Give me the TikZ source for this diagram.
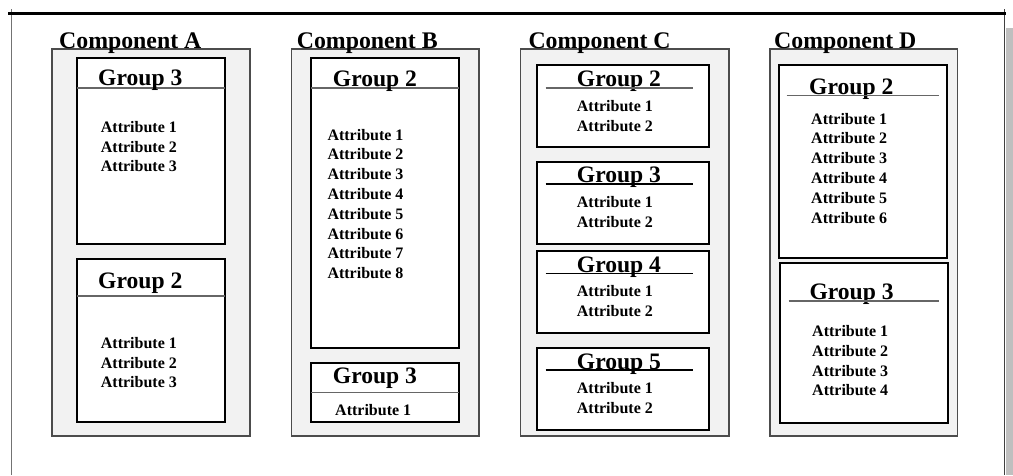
\documentclass[tikz,border=0pt]{standalone}
\usepackage{fontspec}
\setmainfont{Liberation Serif}[BoldFont={Liberation Serif Bold}]
\newcommand\myattrlist[5]{%
  \foreach \k in {1,...,#4} {
    \node[attr] (#1-\k) at (#2, {#3+(\k-1)*#5}) {Attribute \k};
  }%
}
\begin{document}
\begin{tikzpicture}[x=1pt,y=-1pt,
  comp/.style={draw=black!70, fill=black!5, line width=1.2pt},
  grp/.style={draw=black, fill=white, line width=1.8pt},
  ctitle/.style={font=\fontsize{23.8}{23.8}\selectfont\bfseries, anchor=base west, inner sep=0pt},
  gtitle/.style={font=\fontsize{23.6}{23.6}\selectfont\bfseries, anchor=base west, inner sep=0pt},
  attr/.style={font=\fontsize{16}{16}\selectfont\bfseries, anchor=base west, inner sep=0pt},
  div/.style={draw=black!60, line width=1.6pt},
  udiv/.style={draw=black, line width=1.1pt},
]
\useasboundingbox (0,0) rectangle (1013,475);
% frame
\fill[black!25] (1006,28) rectangle (1013,475);
\draw[black!55, line width=1pt] (11.5,9) -- (11.5,475);
\draw[black!75, line width=1pt] (1004.7,9) -- (1004.7,475);
\draw[line width=3pt] (8,13) -- (1006,13);

% ---------------- Component A
\draw[comp] (52,49) rectangle (250,436);
\node[ctitle] (cA) at (59,48) {Component A};
\draw[grp] (77,58) rectangle (225,244);
\draw[div] (77,88) -- (225,88);
\node[gtitle] (A3) at (98,85) {Group 3};
\myattrlist{A3a}{100.7}{132.5}{3}{19.5}
\draw[grp] (77,259) rectangle (225,422);
\draw[div] (77,296) -- (225,296);
\node[gtitle] (A2) at (98,288) {Group 2};
\myattrlist{A2a}{100.7}{348.5}{3}{19.5}

% ---------------- Component B
\draw[comp] (291.7,49) rectangle (479,436);
\node[ctitle] (cB) at (296.7,48) {Component B};
\draw[grp] (311,58) rectangle (459,348);
\draw[div] (311,88) -- (459,88);
\node[gtitle] (B2) at (332.7,86) {Group 2};
\myattrlist{B2a}{327.3}{140}{8}{19.8}
\draw[grp] (311,362.7) rectangle (459,421.7);
\draw[div] (311,392.3) -- (459,392.3);
\node[gtitle] (B3) at (332.7,383.5) {Group 3};
\node[attr] (B3a-1) at (335,415) {Attribute 1};

% ---------------- Component C
\draw[comp] (520.7,49) rectangle (729,436);
\node[ctitle] (cC) at (528.3,48) {Component C};
\draw[grp] (537.3,65.3) rectangle (709.3,147);
\node[gtitle] (C2) at (576.7,86) {Group 2};
\draw[div] (545.7,87.7) -- (693.3,87.7);
\myattrlist{C2a}{576.7}{111}{2}{20}
\draw[grp] (537.3,162) rectangle (709.3,244.3);
\node[gtitle] (C3) at (576.7,182.7) {Group 3};
\draw[udiv] (545.7,184) -- (693.3,184);
\myattrlist{C3a}{576.7}{207.3}{2}{20}
\draw[grp] (537.3,251) rectangle (709.3,332.7);
\node[gtitle] (C4) at (576.7,272.5) {Group 4};
\draw[udiv] (545.7,273.3) -- (693.3,273.3);
\myattrlist{C4a}{576.7}{296.7}{2}{20}
\draw[grp] (537.3,347.7) rectangle (709.3,430);
\node[gtitle] (C5) at (576.7,369) {Group 5};
\draw[udiv] (545.7,370) -- (693.3,370);
\myattrlist{C5a}{576.7}{393.3}{2}{20}

% ---------------- Component D
\draw[comp] (770,49) rectangle (957.3,436);
\node[ctitle] (cD) at (774,48) {Component D};
\draw[grp] (779.3,65.3) rectangle (946.7,257.7);
\node[gtitle] (D2) at (809,94) {Group 2};
\draw[div, line width=1.2pt] (786.7,95.7) -- (939,95.7);
\myattrlist{D2a}{811}{124}{6}{19.8}
\draw[grp] (780.3,263.3) rectangle (947.7,423.3);
\node[gtitle] (D3) at (809.3,299) {Group 3};
\draw[div, line width=1.2pt] (788.7,301) -- (939,301);
\myattrlist{D3a}{812}{336.5}{4}{19.8}
\end{tikzpicture}
\end{document}
